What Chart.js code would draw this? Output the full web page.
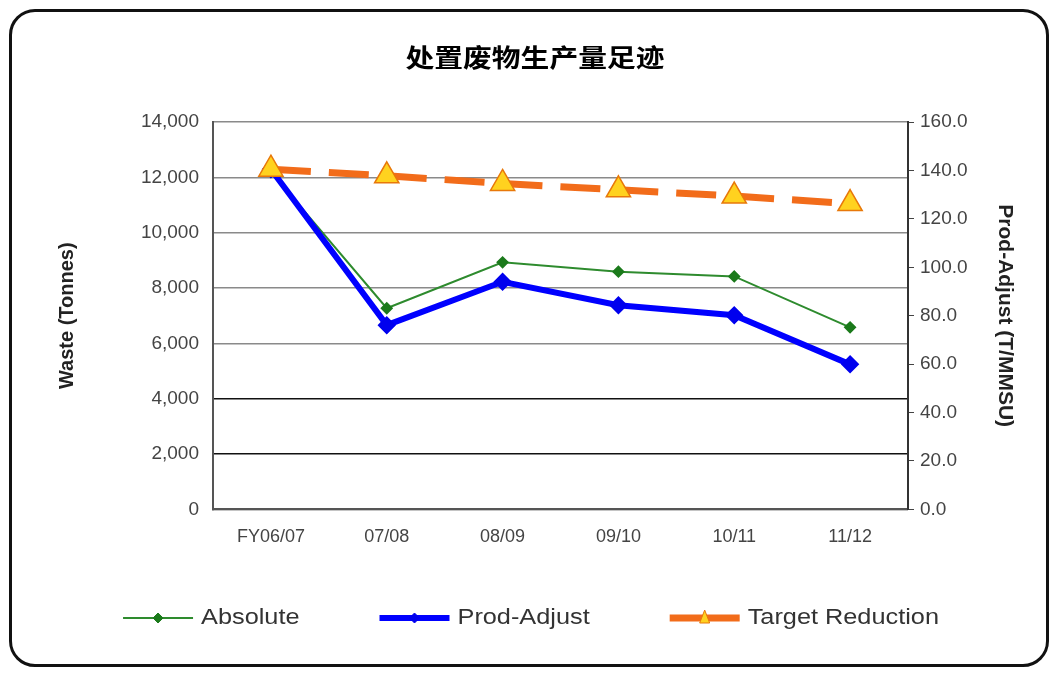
<!DOCTYPE html>
<html>
<head>
<meta charset="utf-8">
<script src="https://cdn.jsdelivr.net/npm/chart.js@4.4.1/dist/chart.umd.min.js"></script>
<style>
body { margin: 0; background: #fff; }
#frame { position: absolute; left: 9px; top: 9px; width: 1034px; height: 652px; border: 3px solid #111; border-radius: 26px; }
#wrap { position: absolute; left: 0; top: 0; width: 1056px; height: 673px; }
</style>
</head>
<body>
<div id="frame"></div>
<div id="wrap"><canvas id="myChart"></canvas></div>
<script>
var categories = ['FY06/07', '07/08', '08/09', '09/10', '10/11', '11/12'];
var absolute = [12200, 7270, 8930, 8590, 8420, 6580];
var prodAdjust = [140.5, 76.1, 94.0, 84.3, 80.2, 59.9];
var targetReduction = [140.5, 137.8, 134.6, 132.0, 129.4, 126.3];
var chartTitle = '处置废物生产量足迹';

var FONT = "'Liberation Sans', Arial, sans-serif";

// title drawn by hand, slightly stretched like the original picture
var wideTitle = {
    id: 'wideTitle',
    afterDraw: function(chart) {
        var ctx = chart.ctx;
        ctx.save();
        ctx.font = "bold 25px 'Noto Sans CJK SC', sans-serif";
        ctx.fillStyle = '#000';
        ctx.textAlign = 'center';
        ctx.textBaseline = 'middle';
        ctx.translate(535, 57);
        ctx.scale(1.15, 1);
        ctx.fillText(chartTitle, 0, 0);
        ctx.restore();
    }
};

// legend row drawn by hand so the line + marker look like the original
var bottomLegend = {
    id: 'bottomLegend',
    afterDraw: function(chart) {
        var ctx = chart.ctx;
        var sets = chart.data.datasets;
        var lineLen = 70, gap = 8, spacing = 80, stretch = 1.15;
        ctx.save();
        ctx.font = '22px ' + FONT;
        var widths = sets.map(function(ds) { return lineLen + gap + ctx.measureText(ds.label).width * stretch; });
        var total = widths.reduce(function(a, b) { return a + b; }, 0) + spacing * (sets.length - 1);
        var x = 531 - total / 2;
        var y = 618;
        sets.forEach(function(ds, i) {
            ctx.strokeStyle = ds.borderColor;
            ctx.lineWidth = ds.borderWidth;
            ctx.beginPath();
            ctx.moveTo(x, y);
            ctx.lineTo(x + lineLen, y);
            ctx.stroke();
            var cx = x + lineLen / 2;
            ctx.fillStyle = ds.pointBackgroundColor;
            ctx.strokeStyle = ds.pointBorderColor;
            ctx.lineWidth = 1;
            ctx.beginPath();
            if (ds.pointStyle === 'triangle') {
                ctx.moveTo(cx, y - 8);
                ctx.lineTo(cx + 5, y + 5);
                ctx.lineTo(cx - 5, y + 5);
            } else {
                ctx.moveTo(cx, y - 5);
                ctx.lineTo(cx + 5, y);
                ctx.lineTo(cx, y + 5);
                ctx.lineTo(cx - 5, y);
            }
            ctx.closePath();
            ctx.fill();
            ctx.stroke();
            ctx.save();
            ctx.fillStyle = '#333';
            ctx.textBaseline = 'middle';
            ctx.translate(x + lineLen + gap, y);
            ctx.scale(stretch, 1);
            ctx.fillText(ds.label, 0, 0);
            ctx.restore();
            x += widths[i] + spacing;
        });
        ctx.restore();
    }
};

new Chart(document.getElementById('myChart'), {
    type: 'line',
    data: {
        labels: categories,
        datasets: [
            {
                label: 'Absolute',
                data: absolute,
                yAxisID: 'y',
                borderColor: '#2e8b2e',
                borderWidth: 2,
                pointStyle: 'rectRot',
                pointRadius: 5,
                pointBackgroundColor: '#1b7a1b',
                pointBorderColor: '#1b7a1b',
                tension: 0,
                order: 2
            },
            {
                label: 'Prod-Adjust',
                data: prodAdjust,
                yAxisID: 'y1',
                borderColor: '#0000ff',
                borderWidth: 6,
                pointStyle: 'rectRot',
                pointRadius: 5,
                pointBackgroundColor: '#0000ee',
                pointBorderColor: '#0000ee',
                tension: 0,
                order: 1
            },
            {
                label: 'Target Reduction',
                data: targetReduction,
                yAxisID: 'y1',
                borderColor: '#f26c1a',
                borderWidth: 7,
                borderDash: [40, 18],
                pointStyle: 'triangle',
                pointRadius: 14,
                pointBackgroundColor: '#ffd21f',
                pointBorderColor: '#e8780a',
                pointBorderWidth: 1.5,
                tension: 0,
                order: 0
            }
        ]
    },
    options: {
        responsive: true,
        maintainAspectRatio: false,
        animation: false,
        layout: { padding: { left: 51, right: 35, top: 122, bottom: 108 } },
        plugins: {
            legend: { display: false },
            tooltip: { enabled: false },
            title: { display: false }
        },
        scales: {
            x: {
                offset: true,
                grid: { drawOnChartArea: false, drawTicks: false },
                border: { color: '#555', width: 2 },
                ticks: { color: '#444', font: { family: FONT, size: 18 }, padding: 17 }
            },
            y: {
                position: 'left',
                min: 0,
                max: 14000,
                ticks: {
                    stepSize: 2000,
                    color: '#444',
                    padding: 14,
                    font: { family: FONT, size: 19 },
                    callback: function(v) { return v.toLocaleString('en-US'); }
                },
                grid: {
                    drawTicks: false,
                    lineWidth: 1.5,
                    color: function(c) {
                        if (c.tick && (c.tick.value === 2000 || c.tick.value === 4000)) return '#111';
                        return '#8a8a8a';
                    }
                },
                border: { color: '#555', width: 2 },
                title: { display: true, text: 'Waste (Tonnes)', color: '#222', font: { family: FONT, size: 20, weight: 'bold' } },
                afterFit: function(scale) { scale.width = 162; }
            },
            y1: {
                position: 'right',
                min: 0,
                max: 160,
                ticks: {
                    stepSize: 20,
                    color: '#444',
                    padding: 6,
                    font: { family: FONT, size: 19 },
                    callback: function(v) { return v.toFixed(1); }
                },
                grid: { drawOnChartArea: false, tickLength: 6, color: '#444' },
                border: { color: '#333', width: 2 },
                title: { display: true, text: 'Prod-Adjust (T/MMSU)', color: '#222', font: { family: FONT, size: 21, weight: 'bold' } },
                afterFit: function(scale) { scale.width = 113; }
            }
        }
    },
    plugins: [wideTitle, bottomLegend]
});
</script>
</body>
</html>
